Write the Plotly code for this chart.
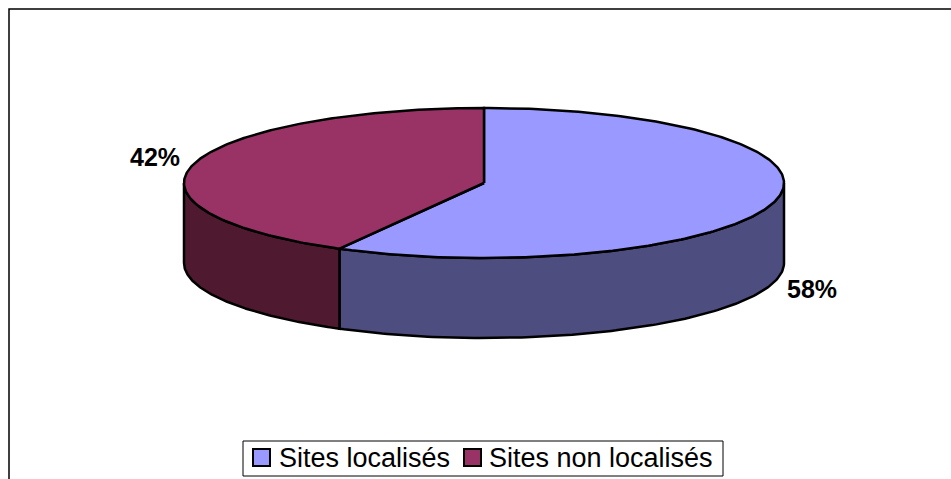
"""3D-style pie chart: Sites localisés vs Sites non localisés."""

import numpy as np
import plotly.graph_objects as go

categories = ["Sites localisés", "Sites non localisés"]
values = [58, 42]
top_colors = ["#9999FF", "#993366"]
side_colors = ["#4D4D80", "#4F1A30"]

W, H = 951, 479
CX, CY = 484, 183   # centre of the top face (pixels)
RX, RY = 300, 75    # ellipse radii
DEPTH = 80          # thickness of the disc


def ellipse(t_deg, dy=0.0):
    """Point(s) on the ellipse, angle measured clockwise from 12 o'clock."""
    t = np.radians(t_deg)
    return CX + RX * np.sin(t), CY - RY * np.cos(t) + dy


total = sum(values)
bounds = np.cumsum([0] + [v / total * 360 for v in values])

fig = go.Figure()

# Side walls (only the front half, 90..270 degrees, is visible)
for i, cat in enumerate(categories):
    a1, a2 = max(bounds[i], 90), min(bounds[i + 1], 270)
    if a2 <= a1:
        continue
    t = np.linspace(a1, a2, 120)
    xt, yt = ellipse(t)
    xb, yb = ellipse(t[::-1], DEPTH)
    fig.add_trace(
        go.Scatter(
            x=np.concatenate([xt, xb, xt[:1]]),
            y=np.concatenate([yt, yb, yt[:1]]),
            mode="lines",
            fill="toself",
            fillcolor=side_colors[i],
            line=dict(color="black", width=2.5),
            hoverinfo="skip",
            showlegend=False,
        )
    )

# Top faces
for i, cat in enumerate(categories):
    t = np.linspace(bounds[i], bounds[i + 1], 240)
    xt, yt = ellipse(t)
    fig.add_trace(
        go.Scatter(
            x=np.concatenate([[CX], xt, [CX]]),
            y=np.concatenate([[CY], yt, [CY]]),
            mode="lines",
            fill="toself",
            fillcolor=top_colors[i],
            line=dict(color="black", width=2.5),
            name=cat,
            hoverinfo="skip",
            showlegend=False,
        )
    )

# Percentage labels
label_pos = [(812, 289), (155, 157)]
for (lx, ly), v in zip(label_pos, values):
    fig.add_annotation(
        x=lx, y=ly, text=f"<b>{v}%</b>", showarrow=False,
        font=dict(family="Liberation Sans, Arial", size=25, color="black"),
        xanchor="center", yanchor="middle",
    )

# Legend (drawn by hand to match the boxed Excel legend)
shapes = [
    dict(type="rect", x0=9, y0=9, x1=W + 10, y1=H + 10,
         line=dict(color="black", width=1.5)),
    dict(type="rect", x0=243, y0=441, x1=723, y1=476,
         line=dict(color="black", width=1), fillcolor="white"),
]
legend_items = [(253, 277), (464, 487)]
for (sx, tx), cat, col in zip(legend_items, categories, top_colors):
    shapes.append(dict(type="rect", x0=sx, y0=449, x1=sx + 17, y1=466,
                       line=dict(color="black", width=2), fillcolor=col))
    fig.add_annotation(
        x=tx, y=458, text=cat, showarrow=False,
        font=dict(family="Liberation Sans, Arial", size=27, color="black"),
        xanchor="left", yanchor="middle",
    )

fig.update_layout(
    width=W,
    height=H,
    margin=dict(l=0, r=0, t=0, b=0),
    paper_bgcolor="white",
    plot_bgcolor="white",
    shapes=shapes,
    showlegend=False,
    xaxis=dict(range=[0, W], visible=False, fixedrange=True),
    yaxis=dict(range=[H, 0], visible=False, fixedrange=True),
)

# Drop the default body margin so the figure fills the window exactly
fig.write_html(
    "out.html",
    config={"displayModeBar": False},
    post_script="document.body.style.margin='0';",
)
